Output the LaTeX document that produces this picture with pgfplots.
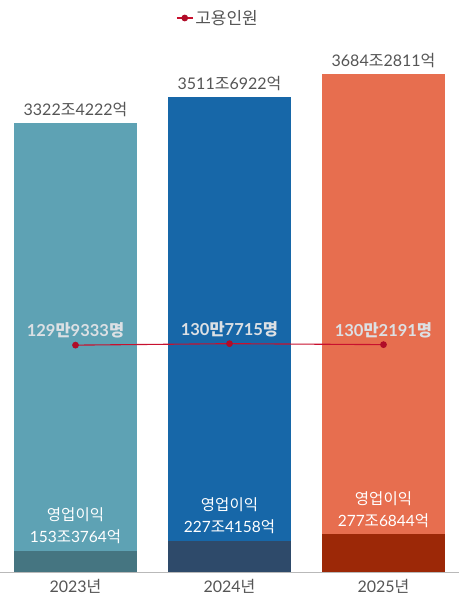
\documentclass[border=0pt]{standalone}
\usepackage{pgfplots}
\pgfplotsset{compat=1.18}
\usepackage{fontspec}
\setmainfont{Lato}
\newfontfamily\krfont{Noto Sans CJK KR}
\newcommand\K[1]{{\krfont #1}}
\definecolor{cA}{HTML}{5EA2B4}
\definecolor{cAd}{HTML}{457581}
\definecolor{cB}{HTML}{1767A8}
\definecolor{cBd}{HTML}{2E4A6A}
\definecolor{cC}{HTML}{E76E4F}
\definecolor{cCd}{HTML}{9C2807}
\definecolor{lineR}{HTML}{C8102E}
\definecolor{dotR}{HTML}{B00C28}
\definecolor{txt}{HTML}{555555}
\definecolor{outfill}{HTML}{DCE0E4}
\pgfplotsset{
 mybar/.style={ybar, bar width=123pt, bar shift=0pt, draw=none},
 revlab/.style={nodes near coords, point meta=explicit symbolic,
   every node near coord/.style={anchor=south, inner sep=0pt, yshift=6pt,
   text=txt, font=\fontsize{16}{18}\selectfont}},
 proflab/.style={nodes near coords, point meta=explicit symbolic,
   every node near coord/.style={anchor=south, inner sep=0pt, yshift=7pt,
   text=white, align=center, font=\fontsize{15.5}{22}\selectfont}},
}
\begin{document}
\begin{tikzpicture}
\path[use as bounding box] (0,0) rectangle (459pt,609pt);
\begin{axis}[
 at={(0pt,37pt)}, anchor=south west, scale only axis,
 width=459pt, height=532pt,
 xmin=-0.4903, xmax=2.4903, ymin=0, ymax=3935,
 axis x line*=bottom, axis y line=none,
 x axis line style={draw=gray!55, line width=0.9pt},
 xtick={0,1,2}, xticklabels={2023\K{년},2024\K{년},2025\K{년}},
 major tick length=0pt,
 xticklabel style={text=txt, font=\fontsize{16}{18}\selectfont, yshift=-4pt},
 clip=false,
]
\addplot[mybar, fill=cA, revlab] coordinates {(0,3322.4222) [3322\K{조}4222\K{억}]};
\addplot[mybar, fill=cB, revlab] coordinates {(1,3511.6922) [3511\K{조}6922\K{억}]};
\addplot[mybar, fill=cC, revlab] coordinates {(2,3684.2811) [3684\K{조}2811\K{억}]};
\addplot[mybar, fill=cAd, proflab] coordinates {(0,153.3764) [\K{영업이익}\\153\K{조}3764\K{억}]};
\addplot[mybar, fill=cBd, proflab] coordinates {(1,227.4158) [\K{영업이익}\\227\K{조}4158\K{억}]};
\addplot[mybar, fill=cCd, proflab] coordinates {(2,277.6844) [\K{영업이익}\\277\K{조}6844\K{억}]};
\end{axis}
\begin{axis}[
 at={(0pt,37pt)}, anchor=south west, scale only axis,
 width=459pt, height=532pt,
 xmin=-0.4903, xmax=2.4903, ymin=0, ymax=304.7,
 hide axis, clip=false,
 legend style={at={(0.475,1)}, anchor=south, yshift=10pt, draw=none, fill=none,
   text=txt, font=\fontsize{17}{19}\selectfont},
 legend image code/.code={\draw[#1, mark repeat=2, mark phase=2] plot coordinates {(0pt,0pt) (8pt,0pt) (16pt,0pt)};},
]
\addplot[lineR, line width=1.1pt, mark=*, mark size=2.8pt,
 mark options={fill=dotR, draw=dotR},
 nodes near coords, point meta=explicit symbolic,
 every node near coord/.style={anchor=south, inner sep=0pt, yshift=6pt,
   text=outfill, font=\fontsize{16.5}{18}\selectfont\bfseries}]
 coordinates {
 (0,129.9333) [129\K{만}9333\K{명}]
 (1,130.7715) [130\K{만}7715\K{명}]
 (2,130.2191) [130\K{만}2191\K{명}]
 };
\addlegendentry{\K{고용인원}}
\end{axis}
\end{tikzpicture}
\end{document}
